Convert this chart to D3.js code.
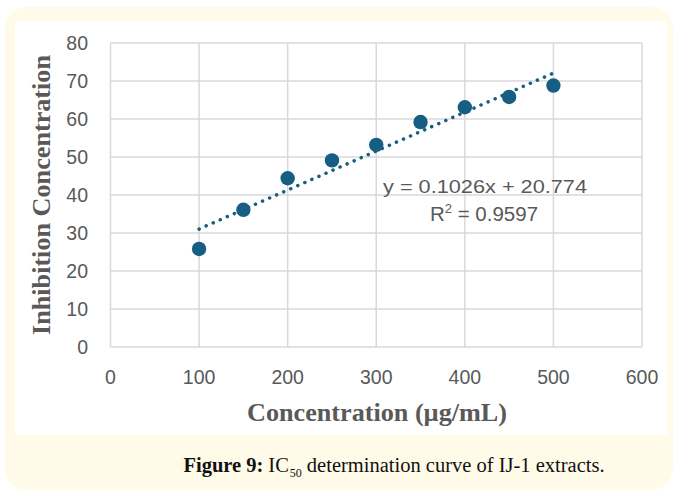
<!DOCTYPE html>
<html>
<head>
<meta charset="utf-8">
<script src="https://cdn.jsdelivr.net/npm/d3@7"></script>
<style>
  html, body { margin: 0; padding: 0; background: #fff; }
  svg { display: block; }
</style>
</head>
<body>
<div id="chart"></div>
<script>
// concentration (µg/mL) and inhibition values
const concentrations = [100, 150, 200, 250, 300, 350, 400, 450, 500];
const inhibition = [25.8, 36.1, 44.4, 49.1, 53.2, 59.2, 63.1, 65.8, 68.8];
const xTicks = [0, 100, 200, 300, 400, 500, 600];
const yTicks = [0, 10, 20, 30, 40, 50, 60, 70, 80];
const slope = 0.1026;
const intercept = 20.774;
const rSquared = 0.9597;

const W = 674, H = 493;
const svg = d3.select('#chart').append('svg')
    .attr('width', W)
    .attr('height', H);

// cream frame and white panel
svg.append('rect')
    .attr('x', 5).attr('y', 7)
    .attr('width', 668).attr('height', 483)
    .attr('rx', 22)
    .attr('fill', '#fffbe8');
svg.append('rect')
    .attr('x', 15).attr('y', 21)
    .attr('width', 652).attr('height', 414)
    .attr('fill', '#ffffff');

const margin = { left: 110.5, right: 642, top: 43, bottom: 347 };

const x = d3.scaleLinear().domain([0, 600]).range([margin.left, margin.right]);
const y = d3.scaleLinear().domain([0, 80]).range([margin.bottom, margin.top]);

const g = svg.append('g');

// grid
g.selectAll('.vgrid')
    .data(xTicks)
    .enter().append('line')
    .attr('x1', d => x(d)).attr('x2', d => x(d))
    .attr('y1', y(0)).attr('y2', y(80))
    .attr('stroke', '#d9d9d9')
    .attr('stroke-width', 1.5);
g.selectAll('.hgrid')
    .data(yTicks)
    .enter().append('line')
    .attr('x1', x(0)).attr('x2', x(600))
    .attr('y1', d => y(d)).attr('y2', d => y(d))
    .attr('stroke', '#d9d9d9')
    .attr('stroke-width', 1.5);

// tick labels
const tickFont = '"Liberation Sans", Arial, sans-serif';
g.selectAll('.xlab')
    .data(xTicks)
    .enter().append('text')
    .attr('x', d => x(d))
    .attr('y', 384)
    .attr('text-anchor', 'middle')
    .attr('font-family', tickFont)
    .attr('font-size', 19.5)
    .attr('fill', '#595959')
    .text(d => d);
g.selectAll('.ylab')
    .data(yTicks)
    .enter().append('text')
    .attr('x', 88)
    .attr('y', d => y(d) + 7)
    .attr('text-anchor', 'end')
    .attr('font-family', tickFont)
    .attr('font-size', 19.5)
    .attr('fill', '#595959')
    .text(d => d);

// axis titles
svg.append('text')
    .attr('x', 377).attr('y', 421)
    .attr('text-anchor', 'middle')
    .attr('font-family', '"Liberation Serif", serif')
    .attr('font-weight', 'bold')
    .attr('font-size', 26)
    .attr('textLength', 260)
    .attr('lengthAdjust', 'spacingAndGlyphs')
    .attr('fill', '#595959')
    .text('Concentration (µg/mL)');
svg.append('text')
    .attr('transform', 'translate(50,195) rotate(-90)')
    .attr('text-anchor', 'middle')
    .attr('font-family', '"Liberation Serif", serif')
    .attr('font-weight', 'bold')
    .attr('font-size', 26)
    .attr('textLength', 280)
    .attr('lengthAdjust', 'spacingAndGlyphs')
    .attr('fill', '#595959')
    .text('Inhibition Concentration');

// linear trendline
const color = '#165f82';
const trendX = [d3.min(concentrations), d3.max(concentrations)];
g.append('path')
    .datum(trendX)
    .attr('d', d3.line().x(d => x(d)).y(d => y(slope * d + intercept)))
    .attr('fill', 'none')
    .attr('stroke', color)
    .attr('stroke-width', 3.5)
    .attr('stroke-linecap', 'round')
    .attr('stroke-dasharray', '0.1 7.6');

// points
g.selectAll('circle')
    .data(concentrations)
    .enter().append('circle')
    .attr('cx', d => x(d))
    .attr('cy', (d, i) => y(inhibition[i]))
    .attr('r', 7.2)
    .attr('fill', color);

// equation
const eq = svg.append('g')
    .attr('font-family', tickFont)
    .attr('font-size', 18.5)
    .attr('fill', '#595959');
eq.append('text')
    .attr('x', 485).attr('y', 193)
    .attr('text-anchor', 'middle')
    .attr('textLength', 204)
    .attr('lengthAdjust', 'spacingAndGlyphs')
    .text(`y = ${slope}x + ${intercept}`);
const r2 = eq.append('text')
    .attr('x', 484).attr('y', 221)
    .attr('font-size', 20.5)
    .attr('text-anchor', 'middle');
r2.append('tspan').text('R');
r2.append('tspan').attr('dy', -8).attr('font-size', 13).text('2');
r2.append('tspan').attr('dy', 8).text(` = ${rSquared}`);

// caption, laid out piece by piece from measured widths
const capParts = [
    { text: 'Figure 9:', size: 20.5, weight: 'bold', dy: 0, gap: 5 },
    { text: 'IC', size: 20.5, weight: 'normal', dy: 0, gap: 1 },
    { text: '50', size: 12, weight: 'normal', dy: 5, gap: 5 },
    { text: 'determination curve of IJ-1 extracts.', size: 20.5, weight: 'normal', dy: 0, gap: 0 }
];
const capG = svg.append('g');
const capTexts = capG.selectAll('text')
    .data(capParts)
    .enter().append('text')
    .attr('y', d => 472 + d.dy)
    .attr('font-family', '"Liberation Serif", serif')
    .attr('font-size', d => d.size)
    .attr('font-weight', d => d.weight)
    .attr('fill', '#111')
    .text(d => d.text);
const widths = capTexts.nodes().map(n => n.getComputedTextLength());
const total = d3.sum(widths) + d3.sum(capParts, d => d.gap);
let cursor = 394 - total / 2;
capTexts.each(function(d, i) {
    d3.select(this).attr('x', cursor);
    cursor += widths[i] + d.gap;
});
</script>
</body>
</html>
